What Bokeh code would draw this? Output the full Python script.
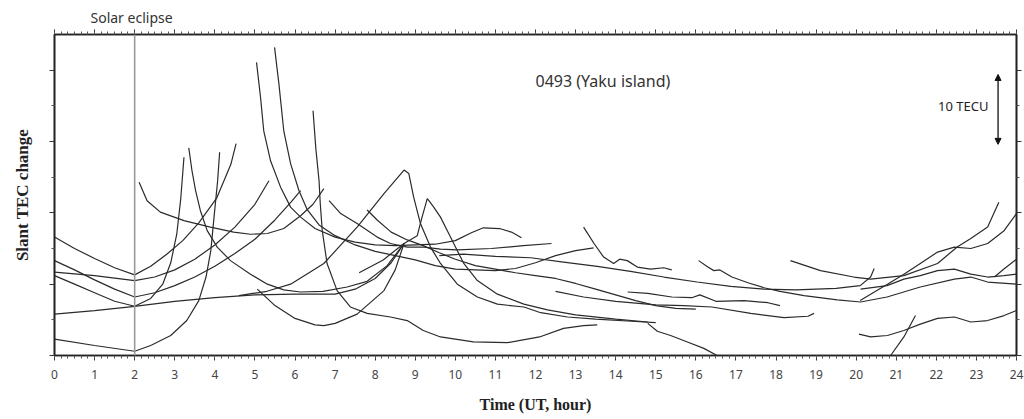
from bokeh.plotting import figure
from bokeh.models import (Range1d, LinearAxis, SingleIntervalTicker, FixedTicker,
                          Span, Label, Arrow, NormalHead)
from bokeh.embed import file_html
from bokeh.resources import INLINE

# ---------------- data (hour UT, slant TEC change in TECU) ----------------
hour_ticks = list(range(0, 25))
tec_major = [0, 10, 20, 30, 40]
tec_minor = [5, 15, 25, 35]
eclipse_hour = 2
eclipse_text = "Solar eclipse"
station_name = "0493 (Yaku island)"
scale_text = "10 TECU"
scale_bar = (29.6, 39.4)

trk01 = [(0, 2.3), (1, 1.4), (2, 0.6), (2.4, 1.4), (2.9, 2.8), (3.3, 4.9), (3.6, 7.7), (3.78, 11), (3.9, 14.7), (3.98, 19.4), (4.07, 24.5), (4.12, 28.5)]
trk02 = [(0, 16.6), (0.5, 15.0), (1, 13.6), (1.5, 12.3), (2, 11.3), (2.4, 12.5), (2.8, 14.2), (3.2, 16.1), (3.6, 18.6), (4.05, 22.1), (4.4, 26.8), (4.53, 29.7)]
trk03 = [(0, 13.3), (0.5, 12.0), (1, 10.6), (1.5, 9.3), (2, 8.2), (2.5, 8.8), (3, 9.8), (3.5, 11.0), (4, 12.5), (4.5, 14.3), (5, 16.3), (5.5, 19.0), (5.9, 21.5), (6.14, 23.1)]
trk04 = [(0, 11.7), (1, 11.2), (2, 10.5), (2.5, 11.0), (3, 12.0), (3.5, 13.5), (4, 15.5), (4.5, 18.0), (5, 21.2), (5.35, 24.5)]
trk05 = [(0, 11.2), (0.5, 10.0), (1, 8.8), (1.5, 7.6), (2, 6.9), (2.4, 8.0), (2.7, 10.0), (2.9, 13.0), (3.05, 17.0), (3.15, 22.0), (3.23, 27.8)]
trk06 = [(0, 5.8), (1, 6.3), (2, 6.9), (3, 7.6), (4, 8.1), (5, 8.5), (6, 8.6), (7, 8.6), (7.5, 9.3), (8, 10.8), (8.4, 13.0), (8.72, 15.7)]
trk07 = [(3.35, 29.1), (3.43, 25.9), (3.52, 23.1), (3.64, 20.3), (3.81, 17.5), (4.06, 15.2), (4.39, 13.3), (4.89, 11.4), (5.31, 10.0), (5.72, 9.2), (6.14, 8.9), (6.7, 9.0), (7.3, 9.6), (7.8, 10.4), (8.3, 12.6), (8.72, 15.7)]
trk08 = [(2.11, 24.3), (2.31, 21.7), (2.64, 20.1), (3.23, 18.9), (3.89, 18.0), (4.47, 17.3), (4.89, 17.0), (5.31, 17.1), (5.72, 17.8), (6.14, 19.6), (6.45, 21.2), (6.72, 23.4)]
trk09 = [(5.04, 41.1), (5.14, 36.2), (5.22, 31.5), (5.39, 27.3), (5.64, 23.6), (5.89, 20.8), (6.14, 19.4), (6.5, 17.8), (7, 16.6), (7.5, 15.9), (8, 15.5), (8.5, 15.4), (9, 15.5), (9.5, 15.6), (10, 16.1), (10.4, 17.2), (10.7, 17.9), (11.1, 17.8), (11.4, 17.3), (11.65, 16.5)]
trk10 = [(5.49, 43.2), (5.6, 38.0), (5.72, 31.5), (5.89, 26.9), (6.1, 23.1), (6.3, 20.5), (6.6, 18.3), (7, 16.8), (7.5, 15.5), (8, 14.6), (8.5, 14.0), (9, 13.4), (9.5, 12.6), (10, 12.1), (10.5, 12.0), (11, 11.9), (11.5, 12.2), (12, 13.0), (12.5, 14.0), (13, 14.7), (13.45, 15.1)]
trk11 = [(6.45, 34.3), (6.52, 29.0), (6.6, 24.5), (6.63, 21.3), (6.68, 17.5), (6.8, 12.9), (7.05, 9.1), (7.38, 6.8), (7.8, 5.9), (8.38, 5.4), (8.8, 4.9), (9.2, 3.5), (9.63, 2.6), (10.45, 1.9), (11.3, 1.8), (12.1, 2.6), (12.7, 3.8), (13.2, 4.2), (13.54, 4.3)]
trk12 = [(5.06, 9.3), (5.5, 7.0), (6, 5.2), (6.5, 4.3), (6.72, 4.2), (7, 4.5), (7.55, 5.8), (8.22, 9.1), (8.5, 12.0), (8.72, 15.7)]
trk13 = [(4.6, 8.4), (5.3, 9.0), (5.89, 10.0), (6.72, 12.9), (7.55, 18.0), (8.22, 22.7), (8.72, 26.0), (8.84, 25.5), (8.96, 22.2), (9.13, 18.5), (9.38, 15.2), (9.63, 12.9), (10.05, 10.0), (10.55, 8.2), (11.05, 7.2), (11.71, 6.8), (12.13, 6.0), (12.8, 5.4), (13.5, 5.1), (14.4, 4.8), (15.0, 4.6)]
trk14 = [(7.6, 11.6), (8.2, 13.4), (8.72, 15.7), (9.05, 16.8), (9.17, 19.4), (9.3, 22.0), (9.34, 21.7), (9.46, 20.8), (9.63, 19.4), (9.8, 17.5), (9.96, 15.7), (10.21, 12.9), (10.55, 10.5), (11.05, 8.6), (11.71, 7.2), (12.3, 6.4), (13, 5.7), (14, 5.1), (14.8, 4.7)]
trk15 = [(6.85, 21.7), (7.14, 19.9), (7.55, 18.5), (8.05, 16.6), (8.38, 15.7), (8.8, 15.2), (9.22, 15.2), (9.63, 14.9), (10.05, 14.8), (10.9, 15.0), (11.7, 15.4), (12.4, 15.7)]
trk16 = [(7.8, 20.4), (8.05, 19.0), (8.4, 17.3), (8.8, 16.2), (9.2, 15.4), (9.6, 14.4), (10, 13.5), (10.5, 12.6), (11, 12.1), (11.5, 11.6), (12, 11.2), (12.5, 10.8), (13, 10.1), (13.5, 9.3), (14, 8.5), (14.5, 7.7), (15, 7.0), (15.5, 6.6), (16, 6.5)]
trk17 = [(9.6, 14.0), (10.2, 14.2), (11, 13.9), (11.88, 13.7), (12.7, 13.1), (13.54, 12.5), (14.37, 11.8), (15.2, 11.0), (16.03, 10.3), (16.87, 9.7), (17.7, 9.3), (18.5, 9.2), (19.5, 9.4), (20.1, 9.8), (20.36, 11.0), (20.45, 12.2)]
trk18 = [(13.2, 18.0), (13.46, 15.7), (13.7, 13.8), (13.95, 12.9), (14.1, 13.5), (14.29, 13.3), (14.54, 12.4), (14.87, 12.1), (15.2, 12.3), (15.4, 12.0)]
trk19 = [(16.07, 13.3), (16.3, 12.4), (16.45, 11.9), (16.6, 12.0), (16.9, 11.0), (17.3, 10.2), (17.7, 9.5), (18.1, 9.0), (18.7, 8.4), (19.53, 7.8), (20.11, 7.5), (20.77, 8.2), (21.6, 9.6), (22.45, 10.7), (22.86, 11.0), (23.28, 10.3), (24.0, 10.0)]
trk20 = [(18.36, 13.3), (19.11, 11.9), (19.94, 11.0), (20.36, 10.7), (21.19, 11.2), (22.03, 12.9), (22.52, 15.2), (22.86, 16.4), (23.28, 18.0), (23.56, 21.5)]
trk21 = [(20.1, 7.7), (20.36, 8.6), (20.78, 10.0), (21.19, 11.4), (21.6, 12.9), (22.03, 14.5), (22.45, 15.2), (22.86, 15.0), (23.28, 15.7), (23.69, 17.5), (24.0, 19.9)]
trk22 = [(20.11, 9.3), (20.77, 9.8), (21.19, 10.7), (21.6, 11.2), (22.03, 11.9), (22.45, 12.1), (22.86, 11.4), (23.28, 11.0), (23.69, 11.2), (24.0, 11.4)]
trk23 = [(23.45, 11.0), (23.7, 12.2), (24.0, 13.5)]
trk24 = [(20.07, 3.0), (20.36, 2.6), (20.78, 2.8), (21.19, 3.5), (21.6, 4.4), (22.03, 5.2), (22.45, 5.4), (22.86, 4.7), (23.28, 4.9), (23.69, 5.6), (24.0, 6.3)]
trk25 = [(20.86, 0.0), (21.19, 2.6), (21.48, 5.6)]
trk26 = [(14.8, 4.5), (15.04, 3.4), (15.37, 2.8), (15.79, 1.9), (16.2, 1.0), (16.53, 0.0)]
trk27 = [(12.5, 9.0), (13.2, 8.2), (14, 7.6), (15, 7.1), (15.7, 7.0), (16.4, 6.8), (17.37, 5.9), (18.2, 5.3), (18.8, 5.5), (18.95, 5.9)]
trk28 = [(14.3, 8.9), (14.8, 8.7), (15.4, 8.2), (15.9, 8.1), (16.1, 8.5), (16.5, 7.6), (17.2, 7.7), (17.8, 7.4), (18.1, 7.0)]

tracks = [trk01, trk02, trk03, trk04, trk05, trk06, trk07, trk08, trk09, trk10,
          trk11, trk12, trk13, trk14, trk15, trk16, trk17, trk18, trk19, trk20,
          trk21, trk22, trk23, trk24, trk25, trk26, trk27, trk28]

# ---------------- figure ----------------
TICK_FONT = "Noto Sans"
SERIF = "Liberation Serif"

p = figure(width=1024, height=419, output_backend="svg", toolbar_location=None,
           x_range=Range1d(0, 24), y_range=Range1d(0, 45),
           title=eclipse_text,
           min_border_left=54, min_border_right=8, min_border_top=34, min_border_bottom=64,
           background_fill_color="white", border_fill_color="white")
p.title.align = "left"
p.title.offset = 36
p.title.text_font = TICK_FONT
p.title.text_font_size = "14px"
p.title.text_font_style = "normal"
p.title.text_color = "#333333"
p.title.standoff = 6

p.xgrid.visible = False
p.ygrid.visible = False
p.outline_line_color = "#222222"
p.outline_line_width = 1.6

xt = SingleIntervalTicker(interval=1, num_minor_ticks=6)
yt = FixedTicker(ticks=tec_major, minor_ticks=tec_minor)


def style_axis(ax):
    ax.axis_line_color = "#222222"
    ax.axis_line_width = 1.6
    ax.major_tick_line_color = "#333333"
    ax.minor_tick_line_color = "#555555"
    ax.major_tick_in = 0
    ax.minor_tick_in = 0
    ax.major_tick_out = 5
    ax.minor_tick_out = 3
    ax.major_label_text_font = TICK_FONT
    ax.major_label_text_font_size = "12px"
    ax.major_label_text_color = "#444444"


bx = p.xaxis[0]
bx.ticker = xt
style_axis(bx)
bx.major_label_standoff = 9
bx.axis_label = "Time (UT, hour)"
bx.axis_label_text_font = SERIF
bx.axis_label_text_font_style = "bold"
bx.axis_label_text_font_size = "16px"
bx.axis_label_text_color = "#222222"
bx.axis_label_standoff = 14

ly = p.yaxis[0]
ly.ticker = yt
style_axis(ly)
ly.major_label_overrides = {t: "" for t in tec_major}
ly.axis_label = "Slant TEC change"
ly.axis_label_text_font = SERIF
ly.axis_label_text_font_style = "bold"
ly.axis_label_text_font_size = "17px"
ly.axis_label_text_color = "#222222"
ly.axis_label_standoff = 18

top_ax = LinearAxis(ticker=SingleIntervalTicker(interval=1, num_minor_ticks=6))
style_axis(top_ax)
top_ax.major_label_overrides = {t: "" for t in hour_ticks}
p.add_layout(top_ax, "above")

right_ax = LinearAxis(ticker=FixedTicker(ticks=tec_major, minor_ticks=tec_minor))
style_axis(right_ax)
right_ax.major_label_overrides = {t: "" for t in tec_major}
p.add_layout(right_ax, "right")

# eclipse marker
p.add_layout(Span(location=eclipse_hour, dimension="height", line_color="#9a9a9a", line_width=1.6))

# satellite tracks
xs = [[pt[0] for pt in t] for t in tracks]
ys = [[pt[1] for pt in t] for t in tracks]
p.multi_line(xs, ys, line_color="#2b2b2b", line_width=1.2)

# annotations
p.add_layout(Label(x=12.0, y=38.5, text=station_name, text_align="left",
                   text_baseline="middle", text_font=TICK_FONT, text_font_size="16px",
                   text_color="#333333"))
p.add_layout(Label(x=23.3, y=35.0, text=scale_text, text_align="right",
                   text_baseline="middle", text_font=TICK_FONT, text_font_size="13px",
                   text_color="#222222"))
p.add_layout(Arrow(start=NormalHead(size=6, fill_color="#111111", line_color="#111111"),
                   end=NormalHead(size=6, fill_color="#111111", line_color="#111111"),
                   x_start=23.54, y_start=scale_bar[0], x_end=23.54, y_end=scale_bar[1],
                   line_color="#111111", line_width=1.3))

open("out.html", "w").write(file_html(p, INLINE))
